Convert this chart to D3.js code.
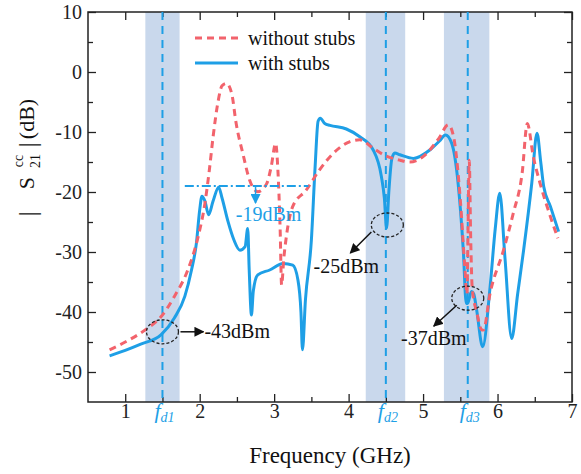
<!DOCTYPE html>
<html>
<head>
<meta charset="utf-8">
<script src="https://cdn.jsdelivr.net/npm/d3@7"></script>
<style>
body{margin:0;background:#fff}
text{font-family:"Liberation Serif","Times New Roman",serif}
</style>
</head>
<body>
<div id="chart"></div>
<script>
//values: frequency (GHz) and |S21cc| (dB)
var freqWith = [0.79,1.0,1.2,1.48,1.66,1.80,1.89,1.955,2.0,2.03,2.07,2.12,2.18,2.255,2.30,2.38,2.46,2.54,2.61,2.645,2.665,2.695,2.72,2.78,2.94,3.12,3.25,3.32,3.36,3.38,3.42,3.50,3.55,3.59,3.62,3.68,3.75,3.97,4.15,4.33,4.44,4.48,4.51,4.54,4.58,4.62,4.69,4.87,5.09,5.22,5.30,5.385,5.47,5.54,5.58,5.60,5.65,5.68,5.72,5.80,5.90,5.97,6.03,6.10,6.19,6.27,6.35,6.46,6.53,6.58,6.62,6.71,6.82];
var dbWith = [-47.3,-46.4,-45.4,-43.8,-41,-37.4,-33,-28.6,-23,-20.7,-21.5,-23.8,-21.5,-19.2,-21,-24.9,-28,-29.7,-29.1,-26.1,-33,-40.5,-36.5,-33.8,-33,-31.9,-32.2,-34.7,-40,-46.3,-38,-28,-15.8,-8.2,-7.7,-8.6,-8.9,-9.5,-10.8,-13,-17.4,-21,-26,-20,-14.5,-13.5,-13.8,-14.4,-13,-11.5,-10.5,-11.9,-18.5,-29.7,-38.6,-38.5,-36.6,-37,-39.7,-45.8,-35.8,-26,-20.2,-31,-44.4,-37,-29.7,-18.5,-10.2,-15,-19.1,-22.4,-26.6];
var freqWithout = [0.79,1.0,1.30,1.48,1.66,1.84,1.98,2.07,2.13,2.18,2.25,2.30,2.36,2.43,2.49,2.58,2.67,2.78,2.90,2.96,3.02,3.05,3.08,3.10,3.13,3.17,3.25,3.43,3.61,3.79,4.02,4.15,4.33,4.47,4.69,4.82,5.0,5.21,5.34,5.41,5.50,5.56,5.59,5.60,5.62,5.64,5.66,5.72,5.79,5.81,5.90,6.08,6.21,6.33,6.40,6.48,6.57,6.71,6.81];
var dbWithout = [-46.3,-45,-42.7,-40.8,-37.4,-33,-27.4,-21.9,-16.3,-10.8,-4.7,-2.3,-1.9,-3.6,-8.6,-13.6,-18,-19.95,-18.6,-15.8,-11.9,-16.3,-26,-35.5,-31,-26.9,-22.4,-19.7,-16.3,-13.6,-11.6,-11.3,-12.7,-13.8,-14.7,-15,-14.1,-11.1,-8.8,-10.8,-21.3,-32.4,-37,-30,-14.7,-28,-36,-40,-43,-43,-36.9,-29.7,-23.6,-16.9,-8.6,-14.1,-18.5,-24.1,-27.7];

var xTicks = [1,2,3,4,5,6,7],
	yTicks = [-50,-40,-30,-20,-10,0,10];

//notch frequencies and the shaded bands round them
var notchFreqs = [1.5,4.5,5.6],
	notchNames = ["d1","d2","d3"],
	bandLo = [1.27,4.23,5.28],
	bandHi = [1.73,4.76,5.89];

//circled points
var markFreqs = [1.5,4.52,5.6],
	markDb = [-43.3,-25.5,-37.7],
	markLabels = ["-43dBm","-25dBm","-37dBm"];

var limitDb = -19, limitFrom = 1.8, limitTo = 3.46, limitArrowAt = 2.75, limitLabel = "-19dBm";
var legendNames = ["without stubs","with stubs"];

var blue = "#1e9fe6", red = "#f2636c", band = "#c9d8ec";

//NB: "top" is taken by window.top, so plot edges get a prefix
var width = 581, height = 474,
	pLeft = 88, pRight = 572, pTop = 12, pBottom = 402;

var x = d3.scaleLinear().domain([0.5,7]).range([pLeft,pRight]);
var y = d3.scaleLinear().domain([-55,10]).range([pBottom,pTop]);

var svg = d3.select("#chart").append("svg").attr("width",width).attr("height",height);

//bands
svg.selectAll("rect.band").data(bandLo).enter().append("rect")
	.attr("class","band")
	.attr("x",function(d){return x(d);})
	.attr("width",function(d,i){return x(bandHi[i]) - x(d);})
	.attr("y",pTop).attr("height",pBottom-pTop)
	.attr("fill",band)

//axes - ticks point inward
var minorX = d3.range(1.5,7,1), minorY = d3.range(-45,10,10);
function styleAxis(g){
	g.select(".domain").remove();
	g.selectAll("line").attr("stroke","#222").attr("stroke-width",1.3);
	g.selectAll("text").attr("font-size",20).attr("fill","#222").style("font-family","Liberation Serif");
}
svg.append("g").attr("transform","translate(0,"+pBottom+")")
	.call(d3.axisBottom(x).tickValues(xTicks).tickFormat(d3.format("d")).tickSize(-8).tickPadding(2)).call(styleAxis);
svg.append("g").attr("transform","translate(0,"+pBottom+")")
	.call(d3.axisBottom(x).tickValues(minorX).tickSize(-5).tickFormat("")).call(styleAxis);
svg.append("g").attr("transform","translate(0,"+pTop+")")
	.call(d3.axisTop(x).tickValues(xTicks).tickSize(-8).tickFormat("")).call(styleAxis);
svg.append("g").attr("transform","translate(0,"+pTop+")")
	.call(d3.axisTop(x).tickValues(minorX).tickSize(-5).tickFormat("")).call(styleAxis);
svg.append("g").attr("transform","translate("+pLeft+",0)")
	.call(d3.axisLeft(y).tickValues(yTicks).tickFormat(d3.format("d")).tickSize(-8).tickPadding(6)).call(styleAxis);
svg.append("g").attr("transform","translate("+pLeft+",0)")
	.call(d3.axisLeft(y).tickValues(minorY).tickSize(-5).tickFormat("")).call(styleAxis);
svg.append("g").attr("transform","translate("+pRight+",0)")
	.call(d3.axisRight(y).tickValues(yTicks).tickSize(-8).tickFormat("")).call(styleAxis);
svg.append("g").attr("transform","translate("+pRight+",0)")
	.call(d3.axisRight(y).tickValues(minorY).tickSize(-5).tickFormat("")).call(styleAxis);
//plain hyphen for negatives, like the original
svg.selectAll(".tick text").text(function(){return d3.select(this).text().replace("\u2212","-");});

svg.append("rect").attr("x",pLeft).attr("y",pTop).attr("width",pRight-pLeft).attr("height",pBottom-pTop)
	.attr("fill","none").attr("stroke","#222").attr("stroke-width",1.5)

//notch lines
svg.selectAll("line.notch").data(notchFreqs).enter().append("line")
	.attr("class","notch")
	.attr("x1",function(d){return x(d);}).attr("x2",function(d){return x(d);})
	.attr("y1",pTop).attr("y2",pBottom)
	.attr("stroke",blue).attr("stroke-width",2).attr("stroke-dasharray","8,6")

//notch labels under the axis
var fl = svg.selectAll("text.fd").data(notchFreqs).enter().append("text")
	.attr("class","fd")
	.attr("x",function(d){return x(d)+2;}).attr("y",418)
	.attr("text-anchor","middle").attr("fill",blue)
fl.append("tspan").attr("font-size",22).attr("font-style","italic").text("f")
fl.append("tspan").attr("font-size",14).attr("font-style","italic").attr("dy",4).text(function(d,i){return notchNames[i];})

//curves
var line = d3.line().x(function(d){return x(d[0]);}).y(function(d){return y(d[1]);}).curve(d3.curveMonotoneX);
svg.append("path").datum(d3.zip(freqWith,dbWith))
	.attr("d",line).attr("fill","none").attr("stroke",blue).attr("stroke-width",3)
svg.append("path").datum(d3.zip(freqWithout,dbWithout))
	.attr("d",line).attr("fill","none").attr("stroke",red).attr("stroke-width",3).attr("stroke-dasharray","7,5")

//-19dBm limit
svg.append("line")
	.attr("x1",x(limitFrom)).attr("x2",x(limitTo)).attr("y1",y(limitDb)).attr("y2",y(limitDb))
	.attr("stroke",blue).attr("stroke-width",2).attr("stroke-dasharray","9,3,2,3")
svg.append("defs").selectAll("marker").data([["arrB",blue],["arrK","#111"]]).enter().append("marker")
	.attr("id",function(d){return d[0];})
	.attr("viewBox","0 0 10 10").attr("refX",9).attr("refY",5)
	.attr("markerWidth",10).attr("markerHeight",10).attr("markerUnits","userSpaceOnUse")
	.attr("orient","auto")
	.append("path").attr("d","M0,0L10,5L0,10z").attr("fill",function(d){return d[1];})
svg.append("line")
	.attr("x1",x(limitArrowAt)).attr("x2",x(limitArrowAt)).attr("y1",y(limitDb)).attr("y2",y(limitDb)+17)
	.attr("stroke",blue).attr("stroke-width",1.5).attr("marker-end","url(#arrB)")
svg.append("text").attr("x",x(limitArrowAt)+13).attr("y",y(limitDb)+35)
	.attr("text-anchor","middle").attr("font-size",20).attr("fill",blue).text(limitLabel)

//circled points with arrows
var ann = [[18,0,41,0,42,6,"start"],[-16,7,-37,28,-41,48,"middle"],[-11,7,-34,28,-34,47,"middle"]];
markFreqs.forEach(function(f,i){
	var cx = x(f), cy = y(markDb[i]), a = ann[i];
	svg.append("ellipse").attr("cx",cx).attr("cy",cy).attr("rx",16).attr("ry",12)
		.attr("fill","none").attr("stroke","#222").attr("stroke-width",1.3).attr("stroke-dasharray","3,2")
	svg.append("line").attr("x1",cx+a[0]).attr("y1",cy+a[1]).attr("x2",cx+a[2]).attr("y2",cy+a[3])
		.attr("stroke","#111").attr("stroke-width",1.5).attr("marker-end","url(#arrK)")
	svg.append("text").attr("x",cx+a[4]).attr("y",cy+a[5]).attr("text-anchor",a[6])
		.attr("font-size",20).attr("fill","#111").text(markLabels[i])
})

//legend
var leg = svg.append("g")
leg.selectAll("line").data(legendNames).enter().append("line")
	.attr("x1",195).attr("x2",238)
	.attr("y1",function(d,i){return 38 + i*25;}).attr("y2",function(d,i){return 38 + i*25;})
	.attr("stroke",function(d,i){return i==0 ? red : blue;}).attr("stroke-width",3)
	.attr("stroke-dasharray",function(d,i){return i==0 ? "7,5" : null;})
leg.selectAll("text").data(legendNames).enter().append("text")
	.attr("x",248).attr("y",function(d,i){return 45 + i*25;})
	.attr("font-size",20).attr("fill","#111").text(function(d){return d;})

//axis titles
svg.append("text").attr("x",(pLeft+pRight)/2).attr("y",463).attr("text-anchor","middle")
	.attr("font-size",23).attr("fill","#111").text("Frequency (GHz)")
var yl = svg.append("g").attr("transform","translate(34,0) rotate(-90)")
yl.append("text").attr("x",-214).attr("y",2).attr("text-anchor","middle").attr("font-size",26).attr("fill","#111").text("|")
yl.append("text").attr("x",-183).attr("text-anchor","middle").attr("font-size",22).attr("fill","#111").text("S")
yl.append("text").attr("x",-161).attr("y",-11).attr("text-anchor","middle").attr("font-size",14).attr("fill","#111").text("cc")
yl.append("text").attr("x",-161).attr("y",6).attr("text-anchor","middle").attr("font-size",14).attr("fill","#111").text("21")
yl.append("text").attr("x",-145).attr("y",2).attr("text-anchor","middle").attr("font-size",26).attr("fill","#111").text("|")
yl.append("text").attr("x",-119).attr("text-anchor","middle").attr("font-size",22).attr("fill","#111").text("(dB)")
</script>
</body>
</html>
